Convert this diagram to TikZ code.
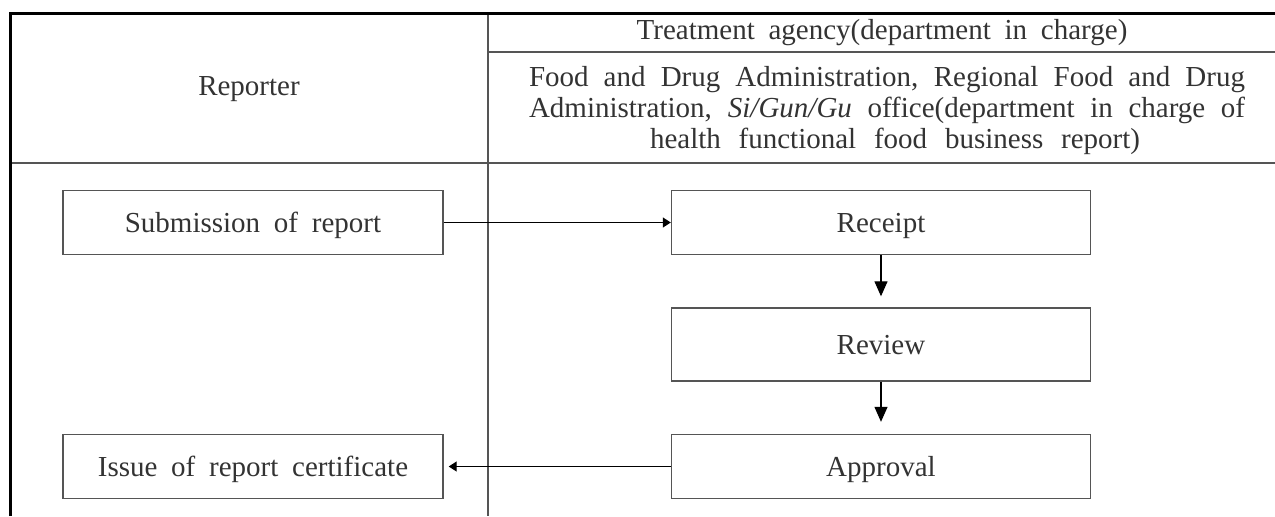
\documentclass[tikz,border=0pt]{standalone}
\usepackage{fontspec}
\setmainfont{Liberation Serif}[WordSpace={1.9}]
\usetikzlibrary{arrows.meta}
\definecolor{ink}{HTML}{333333}
\definecolor{rule}{HTML}{555555}
\begin{document}
\begin{tikzpicture}[x=0.5pt,y=-0.5pt,
  every node/.style={font=\fontsize{14.5pt}{15.5pt}\selectfont,text=ink},
  stepbox/.style={draw=rule,line width=0.7pt,minimum height=32pt,inner sep=0pt,
    text height=10pt,text depth=0pt},
  grid/.style={draw=rule,line width=0.6pt},
  flow/.style={draw=black,line width=0.6pt},
  vtip/.style={-{Triangle[length=7.5pt,width=6.5pt]}},
  htip/.style={-{Triangle[length=4pt,width=5pt]}}]
\useasboundingbox (0,0) rectangle (1275,516);
% table rules
\draw[grid] (488,13) -- (488,516);
\draw[grid] (488,52) -- (1275,52);
\draw[grid] (10,163) -- (1275,163);
\draw[black,line width=1.5pt] (10,516) -- (10,13) -- (1275,13);
% header texts
\node (rep) at (249,89) {Reporter};
\node (agency) at (882,33) {Treatment agency(department in charge)};
\node[align=center] (dept) at (887,111) {%
  \makebox[358pt][s]{Food and Drug Administration, Regional Food and Drug}\\
  \makebox[358pt][s]{Administration, \textit{Si/Gun/Gu} office(department in charge of}\\
  \makebox[358pt]{\hspace{8pt}\makebox[245pt][s]{health functional food business report)}}};
% process boxes
\node[stepbox,minimum width=190pt] (sub) at (253,222.5) {Submission of report};
\node[stepbox,minimum width=209.5pt] (rcpt) at (881,222.5) {Receipt};
\node[stepbox,minimum width=209.5pt,minimum height=36.5pt] (rev) at (881,344.5) {Review};
\node[stepbox,minimum width=209.5pt] (appr) at (881,466.5) {Approval};
\node[stepbox,minimum width=190pt] (iss) at (253,466.5) {Issue of report certificate};
% connectors
\draw[flow,htip] (sub.east) -- (rcpt.west);
\draw[flow,vtip,shorten >=5.5pt] (rcpt.south) -- (rev.north);
\draw[flow,vtip,shorten >=6pt] (rev.south) -- (appr.north);
\draw[flow,htip,shorten >=2.5pt] (appr.west) -- (iss.east);
\end{tikzpicture}
\end{document}
